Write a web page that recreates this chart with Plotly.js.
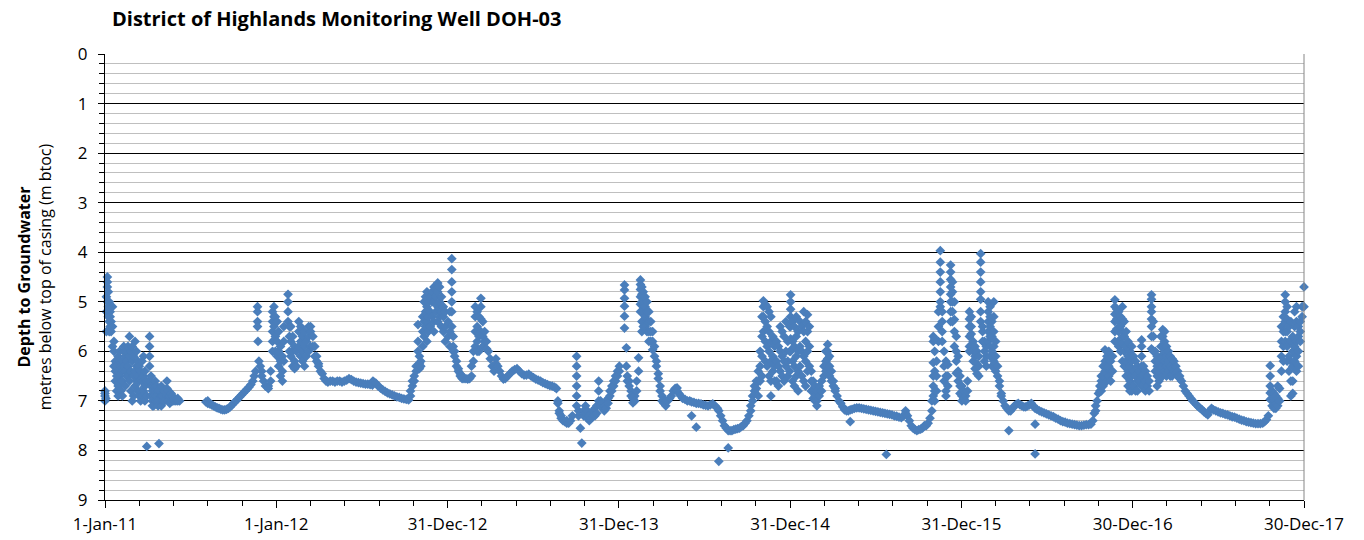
<!DOCTYPE html>
<html>
<head>
<meta charset="utf-8">
<script src="https://cdn.plot.ly/plotly-3.0.1.min.js"></script>
<style>html,body{margin:0;padding:0;background:#fff;}#chart{width:1364px;height:540px;}</style>
</head>
<body>
<div id="chart"></div>
<script>
// Each row: [date, depth readings (m btoc) logged that day...]
const y2011 = [
["2011-01-01",6.8,6.9,7.0,6.85],["2011-01-03",6.95],["2011-01-04",5.6,5.2,4.9],["2011-01-06",4.7,4.5,4.6,5.0],
["2011-01-08",4.8,5.3,5.1],["2011-01-10",5.0,5.4,5.6],["2011-01-12",5.2,5.5,5.3],["2011-01-14",5.6,5.4],
["2011-01-17",5.1,5.5,5.9],["2011-01-20",6.0,6.3,5.8],["2011-01-23",6.2,6.4,6.6],["2011-01-26",6.5,6.8,6.3],
["2011-01-29",6.7,6.9,6.4,6.1],["2011-02-01",6.5,6.2,6.0],["2011-02-04",6.3,6.6,6.8],["2011-02-07",6.9,6.6,6.4,6.2],
["2011-02-10",6.3,6.0,5.9],["2011-02-13",6.1,6.4,6.7],["2011-02-16",6.2,6.5,6.0],["2011-02-19",6.3,5.9,6.5],
["2011-02-22",5.7,6.1,6.6],["2011-02-25",6.0,6.4,6.8],["2011-02-28",5.9,6.2,7.0],["2011-03-03",6.1,6.5,6.9],
["2011-03-06",5.8,6.4,6.7],["2011-03-09",6.0,6.3,6.6],["2011-03-12",6.5,6.8,6.2],["2011-03-15",6.6,6.9,6.3],
["2011-03-18",6.4,6.8,7.0],["2011-03-21",6.6,6.9,6.2],["2011-03-24",6.5,6.1,6.8],["2011-03-27",7.0,6.7,6.4],
["2011-03-31",7.92,6.9,6.6],["2011-04-06",5.7,5.9,6.1,6.3,6.6],["2011-04-09",6.7,6.9,6.5],["2011-04-12",6.8,7.0,7.1],
["2011-04-15",6.7,6.9,7.1],["2011-04-18",6.8,7.0,6.6],["2011-04-21",6.7,6.9,7.0],["2011-04-24",7.0,7.1,6.8],
["2011-04-26",7.86],["2011-04-28",6.8,7.0],["2011-05-01",6.9,7.1,6.7],["2011-05-04",7.0,6.9],
["2011-05-08",6.8,7.0],["2011-05-13",6.6,6.75,6.9],["2011-05-16",6.8,7.0],["2011-05-19",6.9,7.05],
["2011-05-22",6.85,7.0],["2011-05-25",6.9,7.0],["2011-05-28",6.95,7.0],["2011-06-01",7.0],["2011-06-05",6.95,7.0],["2011-06-09",7.0],
["2011-08-04",7.02],["2011-08-08",7.05,7.0],["2011-08-12",7.06],["2011-08-16",7.08],["2011-08-20",7.1],
["2011-08-24",7.12],["2011-08-28",7.14],["2011-09-01",7.15],["2011-09-05",7.17],["2011-09-09",7.18],
["2011-09-13",7.18],["2011-09-17",7.17],["2011-09-21",7.15],["2011-09-25",7.12],["2011-09-29",7.08],
["2011-10-03",7.04],["2011-10-07",7.0],["2011-10-11",6.96],["2011-10-15",6.92],["2011-10-19",6.88],
["2011-10-23",6.84],["2011-10-27",6.8],["2011-10-31",6.76],["2011-11-04",6.72],["2011-11-08",6.67],
["2011-11-12",6.6],["2011-11-15",6.5],["2011-11-18",6.4],["2011-11-22",5.1,5.2,5.4,5.5],["2011-11-23",5.8],
["2011-11-25",6.2],["2011-11-28",6.3],["2011-12-01",6.4,6.5],["2011-12-05",6.6],["2011-12-09",6.7],
["2011-12-15",6.7,6.75],["2011-12-20",6.4,6.6],["2011-12-24",5.2,5.4,5.6,5.8,6.0],["2011-12-27",5.1,5.3,5.5],
["2011-12-30",5.3,5.7,6.0]
];
const y2012 = [
["2012-01-03",5.4,5.8,6.1],["2012-01-06",5.6,6.0,6.3],["2012-01-10",5.9,6.2,6.5],["2012-01-14",6.1,6.4,6.6],
["2012-01-17",5.5,5.8,6.2],["2012-01-26",4.85,5.0,5.2,5.4],["2012-01-29",5.5,5.7,6.0],["2012-02-01",5.5,5.8,6.1],
["2012-02-05",5.7,6.0,6.3],["2012-02-09",5.9,6.2,6.35],["2012-02-13",6.0,6.3],["2012-02-18",5.4,5.6,5.9],
["2012-02-22",5.5,5.8,6.1],["2012-02-26",5.7,6.0,6.2],["2012-03-01",5.6,5.9,6.3],["2012-03-05",5.8,6.1],
["2012-03-10",5.5,5.7,6.0],["2012-03-14",5.5,5.6,5.9],["2012-03-19",5.7,5.9],["2012-03-23",5.9,6.1],
["2012-03-27",6.1,6.2],["2012-03-31",6.25,6.3],["2012-04-04",6.4],["2012-04-08",6.45],["2012-04-12",6.55],
["2012-04-16",6.6],["2012-04-20",6.62],["2012-04-25",6.6],["2012-04-30",6.6],["2012-05-05",6.62],
["2012-05-10",6.6],["2012-05-15",6.6],["2012-05-20",6.62],["2012-05-25",6.6],["2012-05-30",6.58],
["2012-06-04",6.55],["2012-06-09",6.57],["2012-06-14",6.6],["2012-06-19",6.62],["2012-06-24",6.63],
["2012-06-29",6.64],["2012-07-04",6.65],["2012-07-09",6.66],["2012-07-14",6.66],["2012-07-19",6.67],
["2012-07-24",6.68],["2012-07-25",6.6],["2012-07-27",6.62],["2012-07-31",6.64],["2012-08-05",6.7],
["2012-08-10",6.74],["2012-08-15",6.78],["2012-08-20",6.81],["2012-08-25",6.84],["2012-08-30",6.86],
["2012-09-04",6.88],["2012-09-09",6.9],["2012-09-14",6.92],["2012-09-19",6.93],["2012-09-24",6.95],
["2012-09-29",6.96],["2012-10-04",6.97],["2012-10-09",6.98],["2012-10-13",6.9,6.8],["2012-10-17",6.7,6.6],
["2012-10-21",6.5,6.6],["2012-10-25",6.3,6.4],["2012-10-29",5.46,5.8,6.0],["2012-11-01",6.1,6.25,6.35],
["2012-11-04",6.2,6.3],["2012-11-08",5.3,5.6,5.9],["2012-11-11",5.0,5.4,5.7],["2012-11-14",4.9,5.2,5.5],
["2012-11-17",4.8,5.1,5.4,5.8],["2012-11-20",5.0,5.3,5.6],["2012-11-24",4.9,5.2,5.5],["2012-11-28",4.8,5.0,5.3],
["2012-12-02",4.7,5.0,5.4,5.6],["2012-12-06",4.75,4.9,5.2],["2012-12-10",4.62,4.8,5.1,5.4],["2012-12-14",4.7,5.0,5.3],
["2012-12-18",4.9,5.2,5.5],["2012-12-22",5.1,5.3,5.6],["2012-12-26",5.2,5.5,5.8]
];
const y2013 = [
["2013-01-01",5.4,5.7],["2013-01-05",5.2,5.6,5.9],["2013-01-09",4.13,4.35,4.6,4.8,5.0,5.2,5.5],
["2013-01-12",5.7,5.9,6.0],["2013-01-15",6.0,6.1],["2013-01-19",6.2,6.3],["2013-01-23",6.35,6.4],
["2013-01-27",6.45,6.5],["2013-01-31",6.5,6.55],["2013-02-04",6.55],["2013-02-08",6.55],["2013-02-12",6.56],
["2013-02-16",6.55],["2013-02-20",6.3,6.5],["2013-02-24",6.0,6.2],["2013-02-28",5.1,5.3,5.6,5.9],
["2013-03-04",5.2,5.5,5.8,6.0],["2013-03-08",5.3,5.7,6.0],["2013-03-12",4.93,5.1,5.35,5.6],["2013-03-16",5.4,5.7,5.9],
["2013-03-20",5.6,5.8],["2013-03-24",5.8,5.95],["2013-03-28",6.0],["2013-04-01",6.15],["2013-04-05",6.3],
["2013-04-09",6.4],["2013-04-13",6.15,6.25],["2013-04-17",6.3],["2013-04-21",6.4],["2013-04-25",6.5],
["2013-04-29",6.56],["2013-05-03",6.55],["2013-05-08",6.5],["2013-05-13",6.45],["2013-05-18",6.4],
["2013-05-23",6.37],["2013-05-28",6.35],["2013-06-02",6.4],["2013-06-07",6.45],["2013-06-12",6.48],
["2013-06-17",6.48],["2013-06-22",6.46],["2013-06-27",6.5],["2013-07-02",6.53],["2013-07-07",6.56],
["2013-07-12",6.58],["2013-07-17",6.6],["2013-07-22",6.63],["2013-07-27",6.65],["2013-08-01",6.67],
["2013-08-06",6.69],["2013-08-11",6.7],["2013-08-16",6.72],["2013-08-20",6.75],["2013-08-23",7.0,7.05],
["2013-08-26",7.2,7.25],["2013-08-30",7.3,7.35],["2013-09-03",7.4],["2013-09-07",7.42],["2013-09-11",7.45,7.4],
["2013-09-15",7.45],["2013-09-19",7.4],["2013-09-23",7.3],["2013-10-02",6.1,6.3,6.5,6.7,6.9,7.1],
["2013-10-06",7.2,7.3],["2013-10-10",7.55],["2013-10-13",7.85],["2013-10-17",7.3,7.2],["2013-10-21",7.1,7.25],
["2013-10-25",7.2,7.35],["2013-10-29",7.3,7.4],["2013-11-02",7.25,7.35],["2013-11-06",7.2,7.3],
["2013-11-10",7.15,7.3],["2013-11-14",7.1,7.25],["2013-11-18",6.6,6.8,7.0],["2013-11-22",7.0,7.1],
["2013-11-26",7.05,7.15],["2013-11-30",7.1,7.2],["2013-12-04",7.0,7.15],["2013-12-08",6.95,7.05],
["2013-12-12",6.8,6.9],["2013-12-16",6.7,6.8],["2013-12-20",6.6,6.7],["2013-12-24",6.5,6.6],["2013-12-28",6.4,6.5]
];
const y2014 = [
["2014-01-01",6.3,6.4],["2014-01-12",4.66,4.76,4.93,5.09,5.29,5.53],["2014-01-16",5.93,6.3],["2014-01-18",6.5,6.6],
["2014-01-22",6.6,6.7],["2014-01-26",6.8,6.9],["2014-01-30",6.95,7.04],["2014-02-03",6.9,7.0],["2014-02-07",6.6,6.8],
["2014-02-11",6.13,6.4],["2014-02-15",4.56,4.65,4.75,4.9,5.05,5.2],["2014-02-18",4.7,4.85,5.0,5.2,5.4,5.6],
["2014-02-21",4.8,5.0,5.2,5.4,5.5],["2014-02-25",4.9,5.1,5.3,5.5],["2014-03-01",5.0,5.2,5.4,5.6],
["2014-03-05",5.2,5.4,5.6,5.8],["2014-03-09",5.4,5.6,5.8],["2014-03-13",5.6,5.8,5.97],["2014-03-17",5.9,6.1],
["2014-03-21",6.2,6.3],["2014-03-25",6.45,6.55],["2014-03-29",6.7,6.8],["2014-04-02",6.9,7.0],["2014-04-06",7.0,7.05],
["2014-04-10",7.0,7.1],["2014-04-14",7.0],["2014-04-18",6.95],["2014-04-22",6.9],["2014-04-26",6.8],
["2014-04-30",6.75],["2014-05-04",6.74,6.8],["2014-05-08",6.85],["2014-05-12",6.9],["2014-05-16",6.95],
["2014-05-21",6.97],["2014-05-26",7.0],["2014-05-31",7.0],["2014-06-04",7.02,7.3],["2014-06-09",7.03],
["2014-06-14",7.05,7.53],["2014-06-19",7.05],["2014-06-24",7.06],["2014-06-29",7.08],["2014-07-04",7.09],
["2014-07-09",7.1],["2014-07-14",7.08],["2014-07-19",7.06],["2014-07-24",7.1],["2014-07-29",7.15],
["2014-08-01",7.2,8.22],["2014-08-05",7.3],["2014-08-09",7.4],["2014-08-13",7.5],["2014-08-17",7.55],
["2014-08-21",7.6,7.95],["2014-08-25",7.6],["2014-08-29",7.6],["2014-09-02",7.58],["2014-09-06",7.57],
["2014-09-10",7.56],["2014-09-14",7.55],["2014-09-18",7.52],["2014-09-22",7.5],["2014-09-26",7.45],
["2014-09-30",7.4],["2014-10-04",7.3],["2014-10-08",7.1,7.2],["2014-10-12",6.9,7.0],["2014-10-16",6.7,6.8],
["2014-10-20",6.6,6.75],["2014-10-24",6.4,6.6,6.9],["2014-10-28",6.0,6.3,6.6],["2014-11-01",5.3,5.7,6.1,6.5],
["2014-11-04",4.98,5.1,5.3,5.6],["2014-11-08",5.05,5.4,5.8,6.2],["2014-11-12",5.1,5.5,5.9,6.3],
["2014-11-16",5.2,5.6,6.0,6.5],["2014-11-20",5.3,5.8,6.2,6.6,6.9],["2014-11-24",5.7,6.1,6.4],
["2014-11-28",5.9,6.3,6.6],["2014-12-02",5.8,6.2,6.6],["2014-12-06",5.9,6.3,6.7],["2014-12-10",5.5,6.0,6.4],
["2014-12-14",5.6,6.1,6.5],["2014-12-18",5.7,6.2,6.6],["2014-12-22",5.4,6.0,6.3],["2014-12-26",5.8,6.2,6.5],
["2014-12-30",5.5,6.0,6.4]
];
const y2015 = [
["2015-01-01",4.86,5.0,5.15,5.3,5.5,5.75,6.0],["2015-01-05",5.4,5.8,6.2,6.6],["2015-01-09",5.5,5.9,6.3,6.7],
["2015-01-13",5.3,5.7,6.1,6.5],["2015-01-17",5.6,6.0,6.4,6.8],["2015-01-21",5.4,5.9,6.3],["2015-01-25",5.5,6.0,6.5],
["2015-01-29",5.2,5.6,6.1,6.6],["2015-02-02",5.4,5.8,6.2,6.7],["2015-02-06",5.26,5.6,6.0,6.4],["2015-02-10",5.5,5.9,6.3],
["2015-02-14",6.4,6.6,6.8],["2015-02-18",6.6,6.8,6.95],["2015-02-22",6.7,6.9,7.0],["2015-02-26",6.8,7.0,7.1],
["2015-03-03",6.7,6.9],["2015-03-08",6.6,6.8],["2015-03-13",6.3,6.5],["2015-03-17",6.0,6.2,6.4],
["2015-03-21",5.86,6.0,6.15,6.3],["2015-03-25",6.1,6.3,6.5],["2015-03-29",6.4,6.6],["2015-04-02",6.6,6.7],
["2015-04-06",6.75,6.8],["2015-04-10",6.9],["2015-04-14",7.0],["2015-04-18",7.05],["2015-04-22",7.12],
["2015-04-26",7.18],["2015-04-30",7.2],["2015-05-04",7.2],["2015-05-08",7.18,7.42],["2015-05-12",7.17],
["2015-05-17",7.15],["2015-05-22",7.14],["2015-05-27",7.14],["2015-06-01",7.15],["2015-06-06",7.16],
["2015-06-11",7.17],["2015-06-16",7.18],["2015-06-21",7.19],["2015-06-26",7.2],["2015-07-01",7.21],
["2015-07-06",7.22],["2015-07-11",7.23],["2015-07-16",7.24],["2015-07-21",7.25],["2015-07-24",8.08],
["2015-07-26",7.26],["2015-07-31",7.27],["2015-08-05",7.28],["2015-08-10",7.3],["2015-08-15",7.31],
["2015-08-20",7.33],["2015-08-25",7.34],["2015-08-30",7.3],["2015-09-03",7.2,7.25],["2015-09-07",7.3],
["2015-09-11",7.4],["2015-09-15",7.5],["2015-09-19",7.55],["2015-09-23",7.58],["2015-09-27",7.6],
["2015-10-01",7.58],["2015-10-05",7.57],["2015-10-09",7.55],["2015-10-13",7.5],["2015-10-17",7.5],
["2015-10-21",7.45],["2015-10-25",7.35],["2015-10-29",7.2,7.0],["2015-11-01",5.7,5.8,6.23,6.5,6.7,6.9],
["2015-11-04",5.75,6.0,6.4,6.8,7.0],["2015-11-08",6.2,6.5,6.8],["2015-11-12",5.2,5.5,5.8],
["2015-11-16",3.97,4.2,4.4,4.6,4.8,5.0,5.1],["2015-11-20",5.2,5.4,5.6,5.8],["2015-11-24",6.0,6.3,6.6],
["2015-11-28",6.2,6.5,6.8,6.9],["2015-12-02",6.27,6.5,6.7],["2015-12-08",4.26,4.4,4.55,4.7,4.85,5.0,5.2,5.4],
["2015-12-12",4.6,4.8,5.0,5.2,5.4],["2015-12-16",5.0,5.36,5.6,5.9],["2015-12-20",5.7,6.0,6.2,6.44],
["2015-12-24",6.1,6.4,6.6],["2015-12-28",6.5,6.7,6.85]
];
const y2016 = [
["2016-01-01",6.7,6.9,7.0],["2016-01-05",6.8,6.95],["2016-01-09",6.9,7.0],["2016-01-13",6.8,6.6],
["2016-01-17",5.2,5.35,5.5,5.7,5.9,6.0],["2016-01-21",5.3,5.5,5.65],["2016-01-25",5.8,6.0,6.2],
["2016-01-29",5.9,6.1,6.35],["2016-02-02",6.0,6.25,6.45],["2016-02-06",6.1,6.3,6.5],
["2016-02-10",4.03,4.2,4.4,4.6,4.8,4.95,5.2,5.4],["2016-02-14",5.5,5.6,5.8],["2016-02-18",5.8,6.0,6.2],
["2016-02-22",5.9,6.1,6.3],["2016-02-26",5.0,5.2,5.4,5.6,5.8],["2016-03-01",5.1,5.3,5.5,5.7,5.9,6.1],
["2016-03-05",5.4,5.7,6.0,6.3],["2016-03-09",5.0,5.3,5.6,5.9,6.2],["2016-03-13",5.8,6.1,6.4],
["2016-03-17",6.3,6.5],["2016-03-21",6.6,6.7],["2016-03-25",6.85,6.9],["2016-03-29",7.0],["2016-04-02",7.1],
["2016-04-06",7.15],["2016-04-10",7.2,7.6],["2016-04-14",7.2],["2016-04-18",7.15],["2016-04-22",7.1],
["2016-04-26",7.07],["2016-04-30",7.05],["2016-05-04",7.08],["2016-05-08",7.1],["2016-05-12",7.12],
["2016-05-16",7.12],["2016-05-20",7.1],["2016-05-24",7.08],["2016-05-28",7.05],["2016-06-01",7.1],
["2016-06-05",7.15,7.47,8.07],["2016-06-09",7.17],["2016-06-14",7.2],["2016-06-19",7.22],["2016-06-24",7.24],
["2016-06-29",7.26],["2016-07-04",7.28],["2016-07-09",7.3],["2016-07-14",7.32],["2016-07-19",7.35],
["2016-07-24",7.37],["2016-07-29",7.4],["2016-08-03",7.42],["2016-08-08",7.43],["2016-08-13",7.45],
["2016-08-18",7.46],["2016-08-23",7.47],["2016-08-28",7.48],["2016-09-02",7.49],["2016-09-07",7.5],
["2016-09-12",7.5],["2016-09-17",7.49],["2016-09-22",7.48],["2016-09-27",7.48],["2016-10-02",7.47],
["2016-10-06",7.4],["2016-10-09",7.25],["2016-10-12",7.1,7.2],["2016-10-15",7.0],["2016-10-18",6.85],
["2016-10-21",6.7,6.8],["2016-10-24",6.5,6.6,6.8],["2016-10-28",6.3,6.5,6.7],["2016-11-01",5.97,6.2,6.4],
["2016-11-05",6.1,6.3,6.6],["2016-11-09",6.0,6.3,6.5],["2016-11-13",6.2,6.4,6.6],["2016-11-17",6.1,6.4],
["2016-11-22",4.96,5.1,5.25,5.4,5.6,5.8],["2016-11-26",5.15,5.35,5.55],["2016-11-30",5.2,5.4,5.6,5.9],
["2016-12-04",5.3,5.5,5.75,6.0],["2016-12-08",5.1,5.35,5.6,5.85,6.2],["2016-12-12",5.4,5.7,6.0,6.3],
["2016-12-16",5.6,5.9,6.2,6.5],["2016-12-20",5.8,6.1,6.4,6.7],["2016-12-24",6.0,6.3,6.6,6.8],
["2016-12-28",5.9,6.2,6.5,6.8]
];
const y2017 = [
["2017-01-01",6.1,6.4,6.7],["2017-01-05",6.2,6.5,6.8],["2017-01-09",6.3,6.6,6.8],["2017-01-13",6.4,6.6],
["2017-01-18",5.77,5.9,6.1,6.3,6.5,6.7],["2017-01-22",6.3,6.5,6.7],["2017-01-26",6.4,6.6,6.8],
["2017-01-30",6.5,6.7],["2017-02-03",6.6,6.8],["2017-02-08",4.86,4.95,5.1,5.2,5.35,5.5,5.7,5.95],
["2017-02-12",5.4,5.7,6.0],["2017-02-16",6.0,6.2,6.4],["2017-02-20",6.1,6.3,6.5,6.7],["2017-02-24",6.2,6.4,6.6],
["2017-02-28",5.7,5.9,6.1,6.3],["2017-03-04",5.56,5.7,5.9,6.1,6.3,6.5],["2017-03-08",5.6,5.8,6.0,6.2,6.4],
["2017-03-12",5.9,6.1,6.3,6.5],["2017-03-16",6.0,6.2,6.4],["2017-03-20",6.1,6.3,6.5],["2017-03-24",6.15,6.35,6.5],
["2017-03-28",6.2,6.4],["2017-04-01",6.3,6.45],["2017-04-05",6.4,6.5],["2017-04-09",6.5,6.55],["2017-04-13",6.6],
["2017-04-17",6.7],["2017-04-21",6.8],["2017-04-25",6.85],["2017-04-29",6.9],["2017-05-03",6.95],["2017-05-07",7.0],
["2017-05-11",7.04],["2017-05-15",7.08],["2017-05-19",7.12],["2017-05-23",7.15],["2017-05-27",7.18],
["2017-05-31",7.22],["2017-06-04",7.25],["2017-06-08",7.28],["2017-06-12",7.2],["2017-06-16",7.15],
["2017-06-20",7.18],["2017-06-25",7.2],["2017-06-30",7.22],["2017-07-05",7.24],["2017-07-10",7.25],
["2017-07-15",7.27],["2017-07-20",7.28],["2017-07-25",7.3],["2017-07-30",7.32],["2017-08-04",7.33],
["2017-08-09",7.35],["2017-08-14",7.37],["2017-08-19",7.39],["2017-08-24",7.4],["2017-08-29",7.42],
["2017-09-03",7.43],["2017-09-08",7.44],["2017-09-13",7.45],["2017-09-18",7.46],["2017-09-23",7.46],
["2017-09-28",7.46],["2017-10-03",7.45],["2017-10-07",7.42],["2017-10-11",7.38],["2017-10-15",7.3],
["2017-10-19",6.29,6.5,6.7,6.84,6.97],["2017-10-23",6.8,7.0,7.1],["2017-10-27",6.85,7.0,7.15],
["2017-10-31",6.9,7.05,7.15],["2017-11-04",6.7,6.95,7.1],["2017-11-08",6.75,7.0],["2017-11-12",5.5,5.8,6.1,6.4],
["2017-11-16",5.3,5.6,5.9,6.2],["2017-11-20",4.86,5.0,5.2,5.4,5.6,5.8],["2017-11-24",5.1,5.35,5.6,5.9,6.2],
["2017-11-28",5.5,5.8,6.1,6.4],["2017-12-02",5.4,5.8,6.2,6.6,6.9],["2017-12-06",5.7,6.0,6.3,6.6,6.85],
["2017-12-10",5.2,5.5,5.9,6.2],["2017-12-14",5.1,5.4,5.8,6.1,6.4],["2017-12-18",5.5,5.7,6.0,6.3],
["2017-12-22",5.4,5.6,5.8],["2017-12-26",5.1,5.3],["2017-12-30",4.7,5.1]
];

const xTickStart = "2011-01-01";
const xRange = ["2011-01-01", "2017-12-30"];
const yTicks = [0,1,2,3,4,5,6,7,8,9];

const xs = [], ys = [];
[y2011, y2012, y2013, y2014, y2015, y2016, y2017].forEach(function (rows) {
  rows.forEach(function (r) {
    for (let i = 1; i < r.length; i++) { xs.push(r[0]); ys.push(r[i]); }
  });
});

const DAY = 86400000;
const font = "Open Sans, Liberation Sans, sans-serif";

const trace = {
  x: xs, y: ys, type: "scatter", mode: "markers",
  marker: {symbol: "diamond", size: 7.5, color: "#4a7ebb", line: {width: 0}},
  cliponaxis: false, hoverinfo: "x+y"
};

const layout = {
  width: 1364, height: 540,
  margin: {l: 105, r: 60, t: 54, b: 40},
  paper_bgcolor: "#fff", plot_bgcolor: "#fff",
  showlegend: false,
  font: {family: font, color: "#000", size: 15},
  title: {text: "<b>District of Highlands Monitoring Well DOH-03</b>", x: 112/1364, xanchor: "left",
          y: 1 - 19/540, yanchor: "middle", font: {family: font, size: 20, color: "#000"}},
  xaxis: {
    type: "date", range: xRange, tick0: xTickStart, dtick: 365*DAY, tickformat: "%-d-%b-%y",
    showgrid: false, zeroline: false, showline: true, linecolor: "#000", linewidth: 1,
    ticks: "outside", ticklen: 7, tickcolor: "#000", tickwidth: 1, ticklabelstandoff: 2,
    tickfont: {family: font, size: 17, color: "#000"},
    minor: {dtick: 73*DAY, tick0: xTickStart, ticks: "outside", ticklen: 5, tickcolor: "#000", showgrid: false}
  },
  yaxis: {
    range: [9, 0], tickvals: yTicks, showgrid: true, gridcolor: "#000", gridwidth: 1,
    zeroline: false, showline: true, linecolor: "#000", linewidth: 1, mirror: false,
    ticks: "outside", ticklen: 6, tickcolor: "#000", ticklabelstandoff: 7,
    tickfont: {family: font, size: 17, color: "#000"},
    minor: {dtick: 0.2, tick0: 0, showgrid: true, gridcolor: "#bfbfbf", gridwidth: 1, ticks: "outside", ticklen: 5, tickcolor: "#000"},
    title: {text: "<span style=\"font-size:16px\"><b>Depth to Groundwater</b></span><br>metres below top of casing (m btoc)", standoff: 22,
            font: {family: font, size: 16, color: "#000"}}
  },
  shapes: [{type: "line", xref: "paper", yref: "paper", x0: 1, x1: 1, y0: 0, y1: 1, line: {color: "#868686", width: 1}}]
};

Plotly.newPlot("chart", [trace], layout, {displayModeBar: false, staticPlot: true});
</script>
</body>
</html>
